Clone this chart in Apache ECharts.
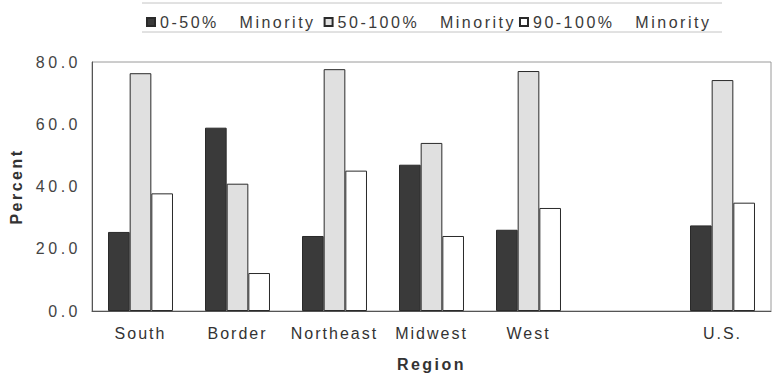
<!DOCTYPE html>
<html>
<head>
<meta charset="utf-8">
<script src="https://cdn.jsdelivr.net/npm/echarts@6/dist/echarts.min.js"></script>
<style>
  html, body { margin: 0; padding: 0; background: #fff; }
  #chart { width: 774px; height: 377px; }
  /* tracked lettering, as in the printed figure */
  #chart text { white-space: pre; }
  #chart text[style*="Arial"] { letter-spacing: 3.5px; }
  #chart text[style*="Liberation Sans"] { letter-spacing: 2px; }
  #chart text[style*="Helvetica"] { letter-spacing: 2.5px; }
</style>
</head>
<body>
<div id="chart"></div>
<script>
// Regions (blank slot separates the national total)
const categories = ['South', 'Border', 'Northeast', 'Midwest', 'West', '', 'U.S.'];

const seriesNames = ['0-50%   Minority', '50-100%   Minority', '90-100%   Minority'];

// Percent of students, by school minority share
const pct0to50 = [25.4, 58.9, 24.1, 47.0, 26.1, null, 27.5];
const pct50to100 = [76.4, 40.9, 77.7, 54.0, 77.1, null, 74.2];
const pct90to100 = [37.8, 12.2, 45.1, 24.1, 33.1, null, 34.8];

const yTicks = { min: 0, max: 80, interval: 20 };

const fills = ['#3a3a3a', '#e0e0e0', '#ffffff'];
const values = [pct0to50, pct50to100, pct90to100];

const chart = echarts.init(document.getElementById('chart'), null, { renderer: 'svg' });

chart.setOption({
  animation: false,
  backgroundColor: '#fff',
  legend: {
    left: 141,
    top: 9,
    itemWidth: 8,
    itemHeight: 8,
    itemGap: 48,
    icon: 'rect',
    selectedMode: false,
    textStyle: { fontFamily: 'Helvetica', fontSize: 16, color: '#3a3a3a' },
    data: seriesNames
  },
  graphic: [
    { type: 'line', shape: { x1: 142, y1: 3, x2: 722, y2: 3 }, style: { stroke: '#c4c4c4', lineWidth: 1 } },
    { type: 'line', shape: { x1: 142, y1: 32, x2: 722, y2: 32 }, style: { stroke: '#c4c4c4', lineWidth: 1 } }
  ],
  grid: {
    left: 89, right: 3, top: 62, bottom: 65,
    show: true, borderColor: '#9a9a9a', borderWidth: 1
  },
  xAxis: {
    type: 'category',
    data: categories,
    name: 'Region',
    nameLocation: 'middle',
    nameGap: 45,
    nameTextStyle: { fontFamily: 'Helvetica', fontWeight: 'bold', fontSize: 16, color: '#333' },
    axisLine: { lineStyle: { color: '#555', width: 1 } },
    axisTick: { show: false },
    axisLabel: { fontFamily: 'Liberation Sans', fontSize: 16, color: '#333', margin: 14, interval: 0 },
    splitLine: { show: false }
  },
  yAxis: {
    type: 'value',
    min: yTicks.min,
    max: yTicks.max,
    interval: yTicks.interval,
    name: 'Percent',
    nameLocation: 'middle',
    nameGap: 68,
    nameTextStyle: { fontFamily: 'Helvetica', fontWeight: 'bold', fontSize: 16, color: '#333' },
    axisLine: { show: true, lineStyle: { color: '#555', width: 1 } },
    axisTick: { show: false },
    axisLabel: {
      fontFamily: 'Arial', fontSize: 16, color: '#444', margin: 11,
      formatter: v => v.toFixed(1)
    },
    splitLine: { show: false }
  },
  series: seriesNames.map((name, i) => ({
    name: name,
    type: 'bar',
    data: values[i],
    barGap: '0%',
    barCategoryGap: '33%',
    itemStyle: { color: fills[i], borderColor: '#2a2a2a', borderWidth: 1 }
  }))
});
</script>
</body>
</html>
